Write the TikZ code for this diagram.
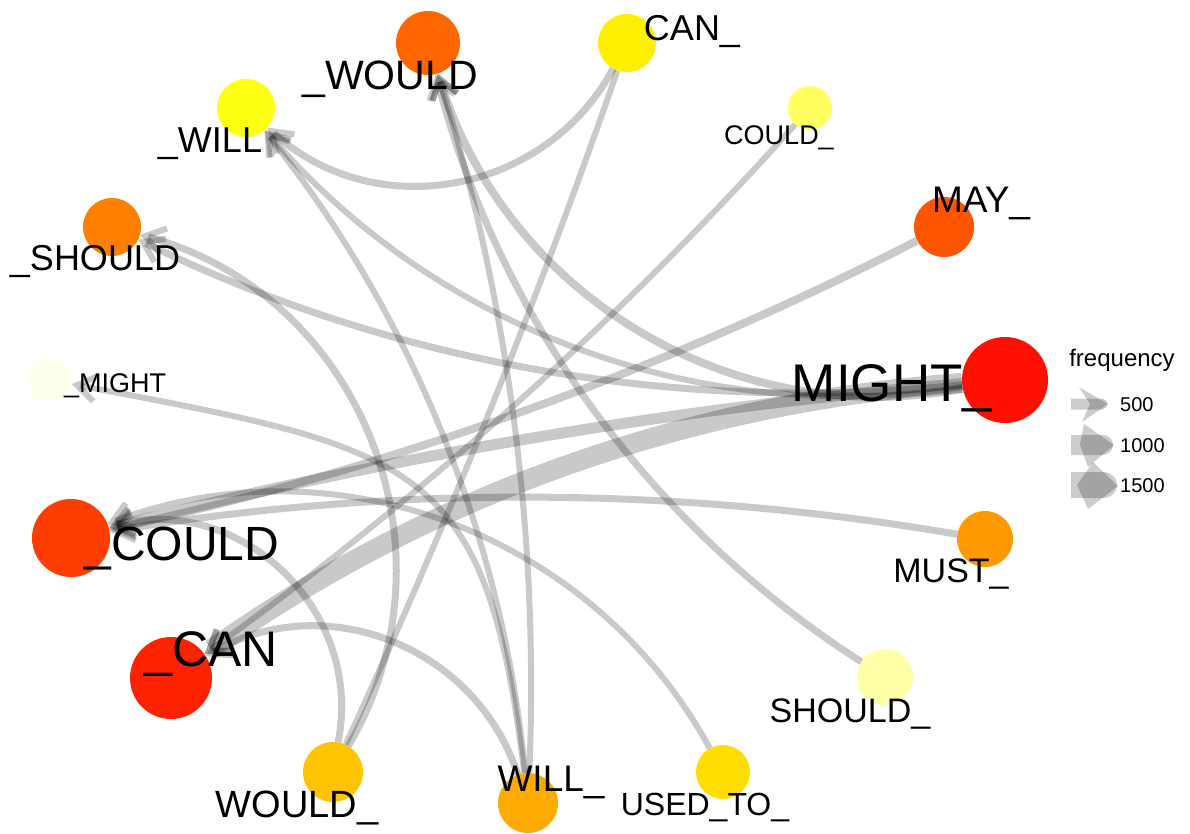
\documentclass[tikz,border=0pt]{standalone}
\usepackage{fontspec}
\setmainfont{Liberation Sans}
\usetikzlibrary{arrows.meta}
\definecolor{ctWOULD}{HTML}{FF6600}
\definecolor{csCAN}{HTML}{FFF000}
\definecolor{csCOULD}{HTML}{FFFF60}
\definecolor{csMAY}{HTML}{FF5500}
\definecolor{csMIGHT}{HTML}{FF1000}
\definecolor{csMUST}{HTML}{FF9900}
\definecolor{csSHOULD}{HTML}{FFFFA8}
\definecolor{csUSED}{HTML}{FFDD00}
\definecolor{csWILL}{HTML}{FFAA00}
\definecolor{csWOULD}{HTML}{FFC400}
\definecolor{ctCAN}{HTML}{FF2200}
\definecolor{ctCOULD}{HTML}{FF3D00}
\definecolor{ctMIGHT}{HTML}{FFFFEE}
\definecolor{ctSHOULD}{HTML}{FF8000}
\definecolor{ctWILL}{HTML}{FFFF14}
\begin{document}
\begin{tikzpicture}[x=1pt,y=-1pt,
  vtx/.style={circle,inner sep=0pt,minimum size=#1},
  lbl/.style={anchor=base,inner sep=0pt,font=\fontsize{#1}{#1}\selectfont},
  edg/.style={draw=black,opacity=0.21,line width=#1},
  tip/.style={-{Straight Barb[length=19pt,width=26pt,line width=6pt]}},
  leg/.style={fill=black,opacity=0.2}]
\useasboundingbox (0,0) rectangle (1190,834);
\fill[white] (0,0) rectangle (1190,834);
% vertices
\node[vtx=64pt,fill=ctWOULD] (tWOULD) at (428,43) {};
\node[vtx=58pt,fill=csCAN] (sCAN) at (627,43) {};
\node[vtx=44pt,fill=csCOULD] (sCOULD) at (810,108) {};
\node[vtx=60pt,fill=csMAY] (sMAY) at (944,227) {};
\node[vtx=86pt,fill=csMIGHT] (sMIGHT) at (1005,380) {};
\node[vtx=56pt,fill=csMUST] (sMUST) at (985,539) {};
\node[vtx=56pt,fill=csSHOULD] (sSHOULD) at (885,677) {};
\node[vtx=54pt,fill=csUSED] (sUSED) at (723,772) {};
\node[vtx=60pt,fill=csWILL] (sWILL) at (528,803) {};
\node[vtx=60pt,fill=csWOULD] (sWOULD) at (333,772) {};
\node[vtx=82pt,fill=ctCAN] (tCAN) at (171,678) {};
\node[vtx=78pt,fill=ctCOULD] (tCOULD) at (71,538) {};
\node[vtx=44pt,fill=ctMIGHT] (tMIGHT) at (50,380) {};
\node[vtx=58pt,fill=ctSHOULD] (tSHOULD) at (112,227) {};
\node[vtx=58pt,fill=ctWILL] (tWILL) at (246,108) {};
% edges (arcs bowing toward the centre)
\draw[edg=20pt,tip] (sMIGHT) to[bend right=15.7,looseness=0.868] (tCAN);
\draw[edg=11pt,tip] (sMIGHT) to[bend right=4.8,looseness=0.853] (tCOULD);
\draw[edg=8pt,tip] (sMIGHT) to[bend left=41.8,looseness=0.976] (tWOULD);
\draw[edg=7pt,tip] (sMIGHT) to[bend left=16,looseness=0.868] (tSHOULD);
\draw[edg=6pt,tip] (sMIGHT) to[bend left=29.2,looseness=0.909] (tWILL);
\draw[edg=8pt,tip] (sMAY) to[bend left=7.4,looseness=0.855] (tCOULD);
\draw[edg=6pt,tip] (sCOULD) to[bend left=6.2,looseness=0.855] (tCAN);
\draw[edg=7pt,tip] (sCAN) to[bend left=51.9,looseness=1.053] (tWILL);
\draw[edg=6pt] (sCAN) to[bend left=2.8,looseness=0.852] (sWOULD);
\draw[edg=7pt,tip] (sWOULD) to[bend right=52.6,looseness=1.059] (tSHOULD);
\draw[edg=7pt,tip] (sWOULD) to[bend right=58,looseness=1.1] (tCOULD);
\draw[edg=6pt,tip] (sWILL) to[bend right=16.7,looseness=0.87] (tWILL);
\draw[edg=6pt,tip] (sWILL) to[bend right=9.9,looseness=0.857] (tWOULD);
\draw[edg=7pt,tip] (sWILL) to[bend right=51,looseness=1.045] (tCAN);
\draw[edg=6pt,tip] (sWILL) .. controls (486,460) and (420,450) .. (tMIGHT);
\draw[edg=7pt,tip] (sSHOULD) to[bend left=21.5,looseness=0.884] (tWOULD);
\draw[edg=6pt,tip] (sUSED) to[bend right=41,looseness=0.97] (tCOULD);
\draw[edg=7pt,tip] (sMUST) to[bend right=9.6,looseness=0.857] (tCOULD);
% labels
\node[lbl=41] (ltWOULD) at (390,90) {\_WOULD};
\node[lbl=36] (lsCAN) at (692,41) {CAN\_};
\node[lbl=36] (ltWILL) at (210,153) {\_WILL};
\node[lbl=27] (lsCOULD) at (779,145) {COULD\_};
\node[lbl=37] (lsMAY) at (981,213) {MAY\_};
\node[lbl=36] (ltSHOULD) at (95,270) {\_SHOULD};
\node[lbl=27] (ltMIGHT) at (115,392) {\_MIGHT};
\node[lbl=53] (lsMIGHT) at (892,401) {MIGHT\_};
\node[lbl=48] (ltCOULD) at (182,560) {\_COULD};
\node[lbl=34] (lsMUST) at (951,582) {MUST\_};
\node[lbl=50] (ltCAN) at (211,666) {\_CAN};
\node[lbl=34] (lsSHOULD) at (850,722) {SHOULD\_};
\node[lbl=38] (lsWOULD) at (297,817) {WOULD\_};
\node[lbl=37] (lsWILL) at (551,791) {WILL\_};
\node[lbl=32] (lsUSED) at (705,815) {USED\_TO\_};
% legend
\node[lbl=24] (legT) at (1122,366) {frequency};
\fill[leg] (1071,398.5) -- (1102,398.5) arc[start angle=-90,end angle=90,radius=5.5] -- (1071,409.5) -- cycle;
\fill[leg] (1079,387) -- (1108,404) -- (1082,422) -- (1090,404) -- cycle;
\node[lbl=20,anchor=base west] (leg1) at (1120,411) {500};
\fill[leg] (1071,435) -- (1103,435) arc[start angle=-90,end angle=90,radius=10] -- (1071,455) -- cycle;
\fill[leg] (1084,424) -- (1114,445) -- (1088,467) -- (1080,445) -- cycle;
\node[lbl=20,anchor=base west] (leg2) at (1120,452) {1000};
\fill[leg] (1071,472) -- (1104,472) arc[start angle=-90,end angle=90,radius=13] -- (1071,498) -- cycle;
\fill[leg] (1093,462) -- (1118,486) -- (1088,509) -- (1077,485) -- cycle;
\node[lbl=20,anchor=base west] (leg3) at (1120,492) {1500};
\end{tikzpicture}
\end{document}
